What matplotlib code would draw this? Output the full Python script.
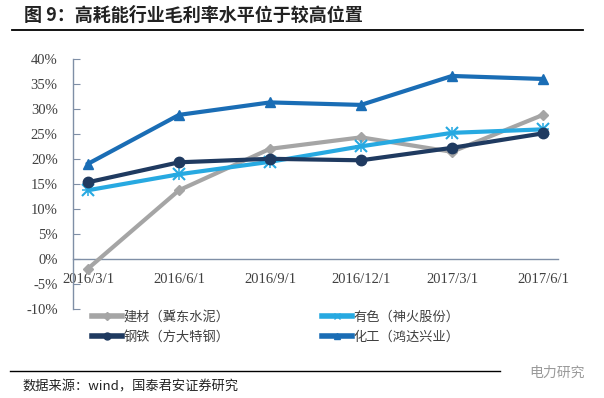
import matplotlib
matplotlib.use("Agg")
import matplotlib.pyplot as plt
from matplotlib.lines import Line2D

plt.rcParams['font.family'] = ['Noto Sans CJK SC', 'DejaVu Sans']

dates = ["2016/3/1", "2016/6/1", "2016/9/1", "2016/12/1", "2017/3/1", "2017/6/1"]
jiancai = [-1.9, 13.8, 22.1, 24.4, 21.5, 28.9]
youse = [13.8, 17.0, 19.5, 22.6, 25.3, 26.0]
gangtie = [15.4, 19.4, 20.1, 19.8, 22.3, 25.2]
huagong = [19.1, 28.9, 31.4, 30.9, 36.7, 36.1]
series_names = ["建材（冀东水泥）", "有色（神火股份）", "钢铁（方大特钢）", "化工（鸿达兴业）"]
yticks = [-10, -5, 0, 5, 10, 15, 20, 25, 30, 35, 40]

W, H = 604, 398
fig = plt.figure(figsize=(W / 100, H / 100), dpi=100)
fig.patch.set_facecolor("white")

def fx(px):
    return px / W

def fy(py):
    return 1 - py / H

ax = fig.add_axes([fx(73), fy(309), fx(558) - fx(73), fy(59.5) - fy(309)])
x = list(range(len(dates)))

c_gray = "#A5A5A5"
c_light = "#27A9E1"
c_navy = "#1F3A60"
c_blue = "#1A6DB5"

lw = 3
ax.plot(x, jiancai, color=c_gray, lw=lw, marker="D", ms=5.5, mfc=c_gray, mec=c_gray, zorder=3)
ax.plot(x, youse, color=c_light, lw=lw, marker="x", ms=8, mew=1.5, mec=c_light, zorder=3)
ax.plot(x, youse, color=c_light, lw=0, marker="+", ms=9, mew=1.1, mec=c_light, zorder=3)
ax.plot(x, gangtie, color=c_navy, lw=lw, marker="o", ms=7.5, mfc=c_navy, mec=c_navy, zorder=4)
ax.plot(x, huagong, color=c_blue, lw=lw, marker="^", ms=7.5, mfc=c_blue, mec=c_blue, zorder=4)

ax.set_xlim(-0.165, 5.165)
ax.set_ylim(-10, 40)

axis_col = "#7F8FA6"
for s in ["top", "right"]:
    ax.spines[s].set_visible(False)
ax.spines["left"].set_color(axis_col)
ax.spines["left"].set_linewidth(1.0)
ax.spines["bottom"].set_position(("data", 0))
ax.spines["bottom"].set_color(axis_col)
ax.spines["bottom"].set_linewidth(1.0)

ax.set_yticks(yticks)
ax.set_yticklabels([f"{v}%" for v in yticks], family=["Liberation Serif"], fontsize=10.5, color="#404040")
ax.tick_params(axis="y", direction="in", length=5, color=axis_col, pad=11)
ax.set_xticks(x)
ax.set_xticklabels(dates, family=["Liberation Serif"], fontsize=10.5, color="#404040")
ax.tick_params(axis="x", length=0, pad=10)

# legend (column-major order so rows read: 建材, 有色 / 钢铁, 化工)
h_jc = Line2D([], [], color=c_gray, lw=4, marker="D", ms=4, mfc=c_gray, mec=c_gray)
h_ys = Line2D([], [], color=c_light, lw=4, marker="x", ms=5, mec=c_light)
h_gt = Line2D([], [], color=c_navy, lw=4, marker="o", ms=5, mfc=c_navy, mec=c_navy)
h_hg = Line2D([], [], color=c_blue, lw=4, marker="^", ms=5, mfc=c_blue, mec=c_blue)
handles = [h_jc, h_gt, h_ys, h_hg]
labels = [series_names[0], series_names[2], series_names[1], series_names[3]]
leg = fig.legend(handles, labels, loc="center left", ncol=2,
                 bbox_to_anchor=(fx(80), fy(327)), frameon=False,
                 fontsize=9.5, handlelength=2.3, handletextpad=0.1,
                 columnspacing=7.0, labelspacing=0.55, labelcolor="#404040")

# title and decorations
fig.text(fx(24), fy(15), "图 9：高耗能行业毛利率水平位于较高位置", fontsize=13,
         fontweight="bold", color="#222222", va="center", ha="left")
fig.add_artist(Line2D([fx(12), fx(583)], [fy(29.5), fy(29.5)], color="black", lw=1.3))
fig.add_artist(Line2D([fx(10), fx(500)], [fy(371), fy(371)], color="black", lw=1.0))
fig.text(fx(22), fy(387), "数据来源：wind，国泰君安证券研究", fontsize=9.5,
         color="#222222", va="center", ha="left")
fig.text(fx(585), fy(373), "电力研究", fontsize=10, color="#9A9A9A",
         va="center", ha="right")

fig.savefig("out.png", dpi=100, facecolor="white")
